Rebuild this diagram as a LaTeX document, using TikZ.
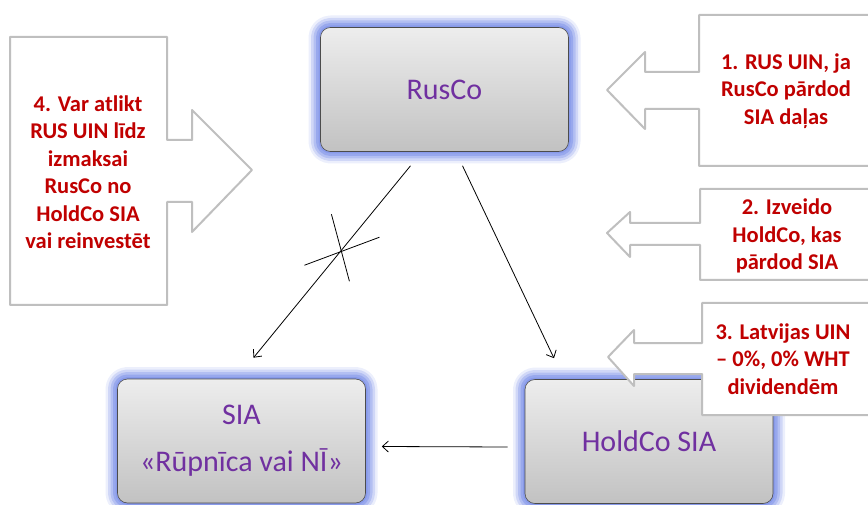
\documentclass[tikz,border=0pt]{standalone}
\usepackage{fontspec}
\setmainfont{Carlito}
\usetikzlibrary{%
  arrows.meta,%
  positioning,%
  calc%
}
\definecolor{boxpurple}{RGB}{112,48,160}
\definecolor{notered}{RGB}{192,0,0}
\definecolor{glowblue}{RGB}{125,145,232}
\definecolor{calloutgray}{RGB}{191,191,191}

\begin{document}
\begin{tikzpicture}[
    x=1pt,y=-1pt,
    >={Straight Barb[length=6pt,width=11pt]},line width=0.8pt,line join=round,
    company/.style={rectangle,rounded corners=10pt,draw=black!70,line width=0.6pt,
        top color=black!7,bottom color=black!24,text=boxpurple,
        minimum width=248pt,minimum height=124pt,align=center,
        font=\fontsize{30}{47}\selectfont,
        preaction={draw=glowblue,line width=24pt,opacity=0.15},
        preaction={draw=glowblue,line width=19pt,opacity=0.25},
        preaction={draw=glowblue,line width=14pt,opacity=0.35},
        preaction={draw=glowblue,line width=9pt,opacity=0.5},
        preaction={draw=glowblue,line width=4pt,opacity=0.6}},
    note/.style={text=notered,align=center,
        font=\bfseries\fontsize{22.5}{27.5}\selectfont},
    callout/.style={draw=calloutgray,line width=2pt,fill=white}
  ]
    \useasboundingbox (0,0) rectangle (868,505);

    \node (rusco)  [company] at (444.5,89.5) {RusCo};
    \node (sia)    [company] at (241.5,441)  {SIA\\«Rūpnīca vai NĪ»};
    \node (holdco) [company] at (649,441.5)  {HoldCo SIA};

    \draw [->] ([xshift=-34pt,yshift=-14pt]rusco.south)
        -- coordinate[pos=0.44] (cut) ([xshift=12pt,yshift=21pt]sia.north);
    \draw ($(cut)+(-37,15)$) -- ($(cut)+(38,-13)$);
    \draw ($(cut)+(-10,-36)$) -- ($(cut)+(8,31)$);
    \draw [->] ([xshift=18pt,yshift=-14pt]rusco.south)
        -- ([xshift=-95pt,yshift=21pt]holdco.north);
    \draw [->] ([xshift=-17pt,yshift=-5.5pt]holdco.west)
        -- ([xshift=16pt,yshift=-5.5pt]sia.east);

    % arrow callouts
    \draw [callout] (10,37) -- (167,37) -- (167,140) -- (192,140) -- (192,110)
        -- (252,170) -- (192,232) -- (192,202) -- (167,202) -- (167,305)
        -- (10,305) -- cycle;
    \draw [callout] (880,15) -- (699,15) -- (699,72) -- (645,72) -- (645,52)
        -- (607,90) -- (645,129) -- (645,109) -- (699,109) -- (699,166)
        -- (880,166) -- cycle;
    \draw [callout] (880,189) -- (700,189) -- (700,223) -- (630,223) -- (630,212)
        -- (607,233) -- (630,257) -- (630,245) -- (700,245) -- (700,280)
        -- (880,280) -- cycle;
    \draw [callout] (880,303) -- (702,303) -- (702,343) -- (634,343) -- (634,330)
        -- (608,357) -- (634,386) -- (634,374) -- (702,374) -- (702,415)
        -- (880,415) -- cycle;

    \node (note4) [note] at (88,172)
        {4. Var atlikt\\RUS UIN līdz\\izmaksai\\RusCo no\\HoldCo SIA\\vai reinvestēt};
    \node (note1) [note] at (786,91) {1. RUS UIN, ja\\RusCo pārdod\\SIA daļas};
    \node (note2) [note] at (787,236) {2. Izveido\\HoldCo, kas\\pārdod SIA};
    \node (note3) [note] at (783,359) {3. Latvijas UIN\\– 0\%, 0\% WHT\\dividendēm};
\end{tikzpicture}
\end{document}
